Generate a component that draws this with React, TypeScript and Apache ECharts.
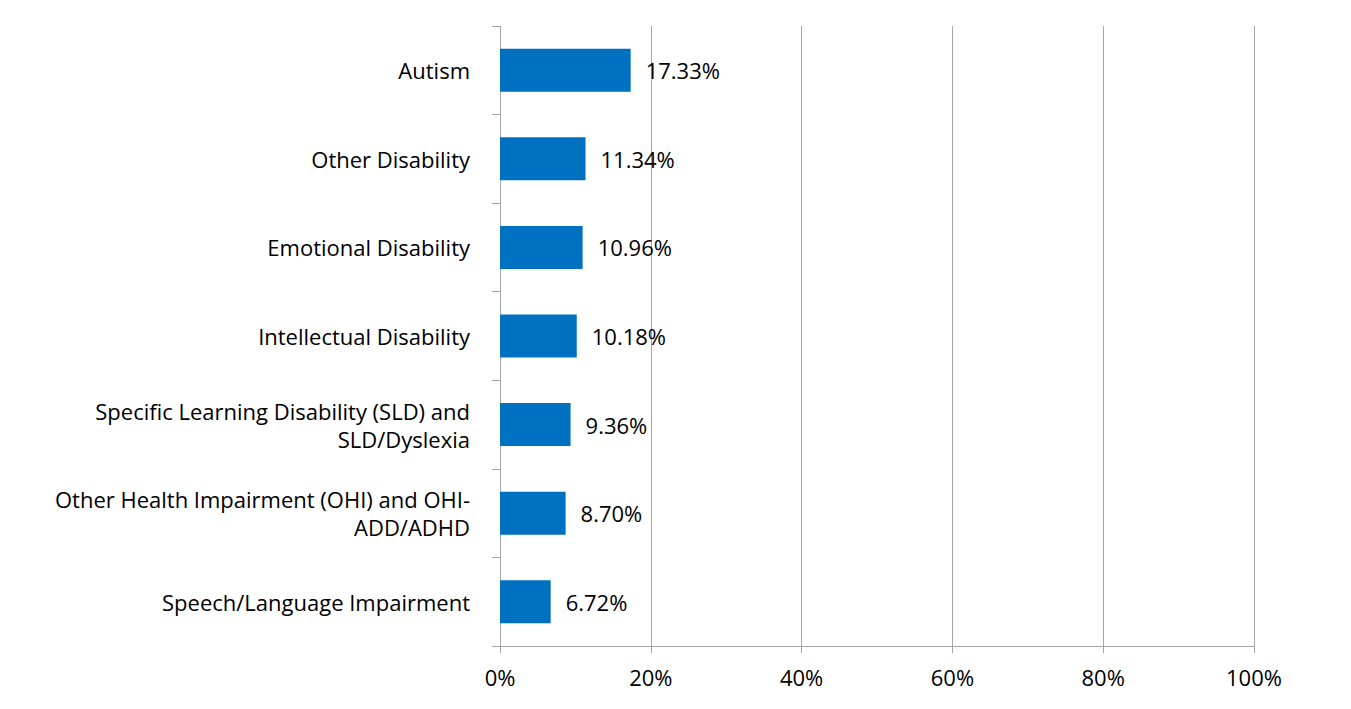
import React, { useEffect, useRef } from "react";
import * as echarts from "echarts";

const categories = [
  "Autism",
  "Other Disability",
  "Emotional Disability",
  "Intellectual Disability",
  "Specific Learning Disability (SLD) and\nSLD/Dyslexia",
  "Other Health Impairment (OHI) and OHI-\nADD/ADHD",
  "Speech/Language Impairment",
];
const values = [17.33, 11.34, 10.96, 10.18, 9.36, 8.7, 6.72];
const xTicks = [0, 20, 40, 60, 80, 100];

const FONT = "Open Sans";
const FS = 22;

export default function App() {
  const ref = useRef<HTMLDivElement>(null);
  useEffect(() => {
    if (!ref.current) return;
    const chart = echarts.init(ref.current, undefined, { renderer: "svg" });
    chart.setOption({
      animation: false,
      backgroundColor: "#ffffff",
      textStyle: { fontFamily: FONT },
      graphic: [
        {
          type: "rect",
          z: 50,
          shape: { x: 7, y: 7, width: 1339, height: 701 },
          style: { fill: "transparent", stroke: "#8c8c8c", lineWidth: 2 },
        },
      ],
      grid: { left: 500, right: 97, top: 26, bottom: 63, containLabel: false },
      xAxis: {
        type: "value",
        min: xTicks[0],
        max: xTicks[xTicks.length - 1],
        interval: 20,
        axisLine: { show: true, lineStyle: { color: "#a6a6a6", width: 1 } },
        axisTick: { show: true, length: 7, lineStyle: { color: "#a6a6a6" } },
        splitLine: { show: true, lineStyle: { color: "#a6a6a6", width: 1 } },
        axisLabel: {
          formatter: "{value}%",
          color: "#000",
          fontSize: FS,
          fontFamily: FONT,
          margin: 20,
        },
      },
      yAxis: {
        type: "category",
        data: categories,
        inverse: true,
        axisLine: { show: true, lineStyle: { color: "#a6a6a6", width: 1 } },
        axisTick: { show: true, length: 8, lineStyle: { color: "#a6a6a6" } },
        axisLabel: {
          color: "#000",
          fontSize: FS,
          fontFamily: FONT,
          margin: 30,
          lineHeight: 28,
          align: "right",
        },
      },
      series: [
        {
          type: "bar",
          data: values,
          barWidth: 43,
          itemStyle: { color: "#0070C0" },
          label: {
            show: true,
            position: "right",
            distance: 15,
            color: "#000",
            fontSize: FS,
            fontFamily: FONT,
            formatter: (p: any) => p.value.toFixed(2) + "%",
          },
        },
      ],
    });
    return () => chart.dispose();
  }, []);
  return <div ref={ref} style={{ width: 1351, height: 709, margin: -8 }} />;
}
